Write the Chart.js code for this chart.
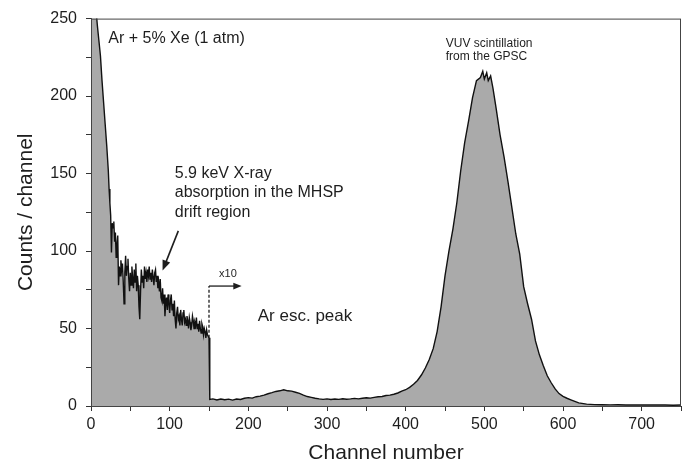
<!DOCTYPE html>
<html>
<head>
<meta charset="utf-8">
<script src="https://cdn.jsdelivr.net/npm/chart.js@4.4.1/dist/chart.umd.min.js"></script>
<style>
  html, body { margin: 0; padding: 0; background: #fff; }
</style>
</head>
<body>
<canvas id="spectrum" width="689" height="469"></canvas>
<script>
// full gain part of the spectrum (channels 0-150)
const lowChannels = [
  0, 2, 4, 6, 8, 10, 12, 14, 16, 18,
  20, 21, 22, 23, 24, 25, 26, 27, 28, 29,
  30, 31, 32, 33, 34, 35, 36, 37, 38, 39,
  40, 41, 42, 43, 44, 45, 46, 47, 48, 49,
  50, 51, 52, 53, 54, 55, 56, 57, 58, 59,
  60, 61, 62, 63, 64, 65, 66, 67, 68, 69,
  70, 71, 72, 73, 74, 75, 76, 77, 78, 79,
  80, 81, 82, 83, 84, 85, 86, 87, 88, 89,
  90, 91, 92, 93, 94, 95, 96, 97, 98, 99,
  100, 101, 102, 103, 104, 105, 106, 107, 108, 109,
  110, 111, 112, 113, 114, 115, 116, 117, 118, 119,
  120, 121, 122, 123, 124, 125, 126, 127, 128, 129,
  130, 131, 132, 133, 134, 135, 136, 137, 138, 139,
  140, 141, 142, 143, 144, 145, 146, 147, 148, 149,
  150
];
const lowCounts = [
  300, 285, 272, 258, 246, 236, 226, 210, 196, 182,
  168, 160, 152, 140, 131, 123, 99, 118, 115, 119,
  106, 112, 96, 104, 110, 78, 90, 84, 94, 88,
  92, 80, 66, 86, 97, 84, 90, 95, 82, 74,
  86, 78, 90, 82, 76, 88, 80, 92, 74, 84,
  78, 64, 56, 74, 88, 80, 84, 76, 90, 82,
  86, 80, 88, 84, 90, 82, 86, 80, 88, 83,
  78, 86, 88, 80, 84, 76, 80, 74, 82, 70,
  68, 76, 66, 72, 58, 66, 70, 62, 72, 66,
  60, 68, 72, 62, 66, 58, 68, 56, 50, 60,
  64, 56, 58, 52, 62, 56, 52, 60, 62, 54,
  56, 52, 58, 55, 50, 57, 54, 49, 52, 58,
  55, 50, 54, 52, 57, 50, 53, 48, 55, 50,
  47, 53, 51, 46, 50, 48, 44, 49, 46, 45,
  44
];

// x10 part of the spectrum (channels above 150)
const highChannels = [
  151, 155, 160, 165, 170, 175, 180, 185, 190, 195,
  200, 205, 210, 215, 220, 225, 230, 235, 240, 245,
  250, 255, 260, 265, 270, 275, 280, 285, 290, 295,
  300, 305, 310, 315, 320, 325, 330, 335, 340, 345,
  350, 355, 360, 365, 370, 375, 380, 385, 390, 395,
  400, 405, 410, 415, 420, 425, 430, 435, 440, 445,
  450, 455, 460, 465, 470, 475, 480, 485, 490, 495,
  498, 500, 503, 505, 508, 511, 515, 520, 525, 530,
  535, 540, 545, 550, 555, 560, 565, 570, 575, 580,
  585, 590, 595, 600, 605, 610, 615, 620, 630, 640,
  650, 660, 670, 680, 690, 700, 710, 720, 730, 740,
  750
];
const highCounts = [
  4.2, 4.6, 3.9, 4.5, 4.0, 4.4, 3.8, 4.5, 4.2, 5.0,
  5.4, 5.1, 6.0, 6.4, 7.0, 7.9, 8.6, 9.4, 9.8, 10.5,
  9.8, 9.6, 8.9, 8.1, 7.0, 6.1, 5.6, 5.0, 4.6, 4.3,
  4.6, 4.2, 4.5, 4.3, 4.7, 4.4, 4.6, 4.9, 4.6, 5.0,
  5.3, 5.1, 5.6, 6.0, 6.1, 6.8, 7.0, 7.6, 8.4, 9.6,
  10.5, 12, 14, 16.5, 20, 24.5, 30, 37, 48, 64,
  84, 100, 114, 131, 152, 170, 184, 199, 210, 212,
  216, 211, 215, 210, 213, 205, 192, 175, 161, 145,
  128, 111, 98, 77, 66, 56, 42, 33, 26, 19.5,
  15, 11, 8, 6.2, 5, 4, 3, 2, 1.2, 0.9,
  0.8, 0.7, 0.8, 0.6, 0.7, 0.6, 0.7, 0.6, 0.6, 0.5,
  0.6
];

const xTickLabels = [0, 100, 200, 300, 400, 500, 600, 700];
const yTickLabels = [0, 50, 100, 150, 200, 250];

const points = lowChannels.map((c, i) => ({ x: c, y: lowCounts[i] }))
  .concat(highChannels.map((c, i) => ({ x: c, y: highCounts[i] })));

const FONT = '"Liberation Sans", Arial, sans-serif';
const INK = '#1e1e1e';

function arrow(ctx, x1, y1, x2, y2, head) {
  const a = Math.atan2(y2 - y1, x2 - x1);
  ctx.beginPath();
  ctx.moveTo(x1, y1);
  ctx.lineTo(x2 - Math.cos(a) * head * 0.8, y2 - Math.sin(a) * head * 0.8);
  ctx.stroke();
  ctx.beginPath();
  ctx.moveTo(x2, y2);
  ctx.lineTo(x2 - head * Math.cos(a - 0.38), y2 - head * Math.sin(a - 0.38));
  ctx.lineTo(x2 - head * Math.cos(a + 0.38), y2 - head * Math.sin(a + 0.38));
  ctx.closePath();
  ctx.fill();
}

const annotations = {
  id: 'annotations',
  afterDraw(chart) {
    const ctx = chart.ctx;
    const xs = chart.scales.x, ys = chart.scales.y;
    const px = v => xs.getPixelForValue(v);
    const py = v => ys.getPixelForValue(v);
    const area = chart.chartArea;

    ctx.save();
    // frame
    ctx.strokeStyle = '#444';
    ctx.lineWidth = 1;
    ctx.strokeRect(area.left + 0.5, area.top + 0.5, area.right - area.left - 1, area.bottom - area.top);

    ctx.fillStyle = INK;
    ctx.textBaseline = 'middle';
    ctx.textAlign = 'left';

    ctx.font = '16px ' + FONT;
    ctx.fillText('Ar + 5% Xe (1 atm)', px(22), py(237));
    ctx.fillText('5.9 keV X-ray', px(106.5), py(150));
    ctx.fillText('absorption in the MHSP', px(106.5), py(137.5));
    ctx.fillText('drift region', px(106.5), py(125));
    ctx.font = '17px ' + FONT;
    ctx.fillText('Ar esc. peak', px(212), py(58));

    ctx.font = '12px ' + FONT;
    ctx.fillText('VUV scintillation', px(451), py(234));
    ctx.fillText('from the GPSC', px(451), py(225.5));

    ctx.font = '11px ' + FONT;
    ctx.textAlign = 'center';
    ctx.fillText('x10', px(174), py(85));

    // arrow to the 5.9 keV absorption region
    ctx.strokeStyle = INK;
    ctx.lineWidth = 1.6;
    arrow(ctx, px(111), py(113), px(91), py(87.4), 11);

    // x10 marker
    ctx.lineWidth = 1.3;
    ctx.setLineDash([3, 2]);
    ctx.beginPath();
    ctx.moveTo(px(150), py(44));
    ctx.lineTo(px(150), py(77.4));
    ctx.stroke();
    ctx.setLineDash([]);
    arrow(ctx, px(150), py(77.4), px(191.5), py(77.4), 9);

    // axis titles
    ctx.font = '21px ' + FONT;
    ctx.textAlign = 'center';
    ctx.fillText('Channel number', (area.left + area.right) / 2, 453);
    ctx.translate(26, (area.top + area.bottom) / 2);
    ctx.rotate(-Math.PI / 2);
    ctx.fillText('Counts / channel', 0, 0);
    ctx.restore();
  }
};

new Chart(document.getElementById('spectrum'), {
  type: 'line',
  data: {
    datasets: [{
      label: 'Counts',
      data: points,
      fill: 'origin',
      backgroundColor: '#aaaaaa',
      borderColor: '#111',
      borderWidth: 1.4,
      pointRadius: 0,
      tension: 0
    }]
  },
  options: {
    responsive: false,
    animation: false,
    layout: { padding: { left: 0, top: 15, right: 8, bottom: 0 } },
    plugins: {
      legend: { display: false },
      tooltip: { enabled: false }
    },
    scales: {
      x: {
        type: 'linear',
        min: 0,
        max: 750,
        afterFit: s => { s.height = 63; },
        grid: { drawOnChartArea: false, tickLength: 5, color: '#333' },
        border: { color: '#333' },
        ticks: {
          stepSize: 50,
          padding: 4,
          maxRotation: 0,
          color: INK,
          font: { size: 16, family: FONT },
          callback: v => xTickLabels.includes(v) ? v : ''
        }
      },
      y: {
        min: 0,
        max: 250,
        afterFit: s => { s.width = 91; },
        grid: { drawOnChartArea: false, tickLength: 5, color: '#333' },
        border: { color: '#333' },
        ticks: {
          stepSize: 25,
          padding: 9,
          color: INK,
          font: { size: 16, family: FONT },
          callback: v => yTickLabels.includes(v) ? v : ''
        }
      }
    }
  },
  plugins: [annotations]
});
</script>
</body>
</html>
